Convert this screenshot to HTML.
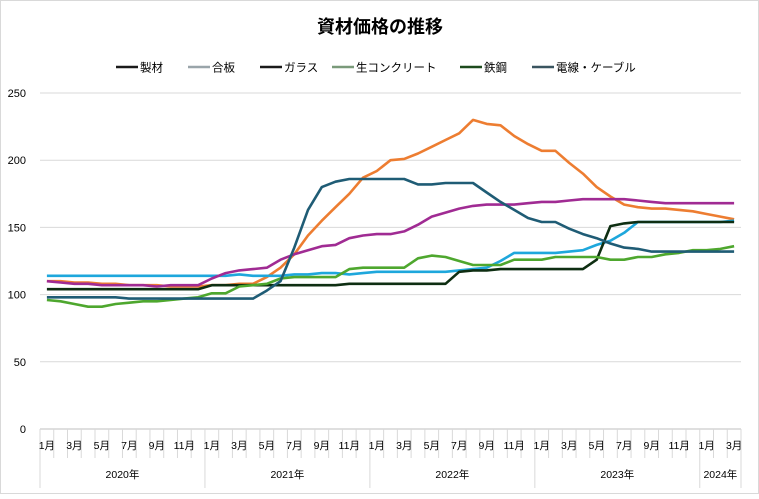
<!DOCTYPE html>
<html><head><meta charset="utf-8"><style>
body{margin:0;background:#fff;font-family:"Liberation Sans","Noto Sans CJK JP",sans-serif;}
svg text{font-family:"Liberation Sans","Noto Sans CJK JP",sans-serif;}
</style></head><body>
<svg id="c" width="759" height="494" xmlns="http://www.w3.org/2000/svg">
<rect x="0.5" y="0.5" width="758" height="493" fill="#fff" stroke="#d9d9d9"/>
<text x="380" y="33" text-anchor="middle" font-size="18" font-weight="bold" fill="#000">資材価格の推移</text>
<g id="legend"></g>
<g id="grid"></g>
<g id="xaxis"></g>
<g id="series"></g>
</svg>
<script>
const seriesNames=["製材","合板","ガラス","生コンクリート","鉄鋼","電線・ケーブル"];
const yTicks=[0,50,100,150,200,250];
const years=["2020年","2021年","2022年","2023年","2024年"];
const wood=[110,110,109,109,108,108,107,107,107,106,106,106,107,107,108,108,113,120,130,144,155,165,175,187,192,200,201,205,210,215,220,230,227,226,218,212,207,207,198,190,180,173,167,165,164,164,163,162,160,158,156];
const plywood=[114,114,114,114,114,114,114,114,114,114,114,114,114,114,115,114,114,114,115,115,116,116,115,116,117,117,117,117,117,117,118,119,120,125,131,131,131,131,132,133,137,140,146,154,154,154,154,154,154,154,155];
const glass=[104,104,104,104,104,104,104,104,104,104,104,104,107,107,107,107,107,107,107,107,107,107,108,108,108,108,108,108,108,108,117,118,118,119,119,119,119,119,119,119,126,151,153,154,154,154,154,154,154,154,154];
const concrete=[96,95,93,91,91,93,94,95,95,96,97,98,101,101,106,107,108,112,113,113,113,113,119,120,120,120,120,127,129,128,125,122,122,122,126,126,126,128,128,128,128,126,126,128,128,130,131,133,133,134,136];
const steel=[110,109,108,108,107,107,107,107,106,107,107,107,112,116,118,119,120,126,130,133,136,137,142,144,145,145,147,152,158,161,164,166,167,167,167,168,169,169,170,171,171,171,171,170,169,168,168,168,168,168,168];
const wire=[98,98,98,98,98,98,97,97,97,97,97,97,97,97,97,97,103,110,135,163,180,184,186,186,186,186,186,182,182,183,183,183,176,169,163,157,154,154,149,145,142,138,135,134,132,132,132,132,132,132,132];
const seriesData=[wood,plywood,glass,concrete,steel,wire];
const colors=["#ed7d31","#1ea7dc","#0e2e12","#4ea72e","#a02b93","#1f5c75"];
const legendColors=["#1a1a1a","#9aa5aa","#1a1a1a","#7a9a7a","#1d4a1d","#3a5560"];
const NS="http://www.w3.org/2000/svg";
const X0=40,X1=741,Y0=429,Y1=93,N=wood.length;
const band=(X1-X0)/N;
function xs(i){return X0+band*(i+0.5);}
function ys(v){return Y0-(v-0)/(250-0)*(Y0-Y1);}
function mk(tag,attrs,parent){const e=document.createElementNS(NS,tag);for(const k in attrs)e.setAttribute(k,attrs[k]);parent.appendChild(e);return e;}
const grid=document.getElementById('grid');
yTicks.forEach(t=>{
  const l=mk('line',{x1:X0,x2:X1,y1:ys(t),y2:ys(t),stroke:t===0?'#bfbfbf':'#d9d9d9','stroke-width':1},grid);
  
  
  const tx=mk('text',{x:26,y:ys(t)+4,'text-anchor':'end','font-size':11,fill:'#000'},grid);
  tx.textContent=t;
  
  
});
const xa=document.getElementById('xaxis');
for(let i=0;i<=N;i++){
  const x=X0+band*i;
  const m=i%12;
  const isYear=(m===0)||i===N;
  const tk=mk('line',{x1:x,x2:x,y1:Y0,y2:isYear?488:458,stroke:'#d9d9d9','stroke-width':1},xa);
  
  
}
for(let i=0;i<N;i++){
  const m=i%12;
  if(m%2===0){
    const t=mk('text',{x:xs(i),y:449,'text-anchor':'middle','font-size':10.5,fill:'#000'},xa);
    t.textContent=(m+1)+'月';
    
    
  }
}
years.forEach((y,k)=>{
  const s=k*12,e=Math.min(N,s+12);
  const t=mk('text',{x:X0+band*(s+e)/2,y:478,'text-anchor':'middle','font-size':10.5,fill:'#000'},xa);
  t.textContent=y;
  
  
});
const sg=document.getElementById('series');
const order=[0,1,2,3,4,5];
order.forEach(si=>{
  const d=seriesData[si].map((v,i)=>(i?'L':'M')+xs(i).toFixed(1)+','+ys(v).toFixed(1)).join(' ');
  const p=mk('path',{d:d,fill:'none',stroke:colors[si],'stroke-width':2.6,'stroke-linejoin':'round'},sg);
  
  
});
const lg=document.getElementById('legend');
const lx=[116,188,260,332,460,532];
seriesNames.forEach((n,i)=>{
  const x=lx[i];
  const l=mk('line',{x1:x,x2:x+22,y1:67,y2:67,stroke:legendColors[i],'stroke-width':2.5},lg);
  
  
  const t=mk('text',{x:x+24,y:71.5,'font-size':11.5,fill:'#000'},lg);
  t.textContent=n;
  
  
});
</script>
</body></html>
